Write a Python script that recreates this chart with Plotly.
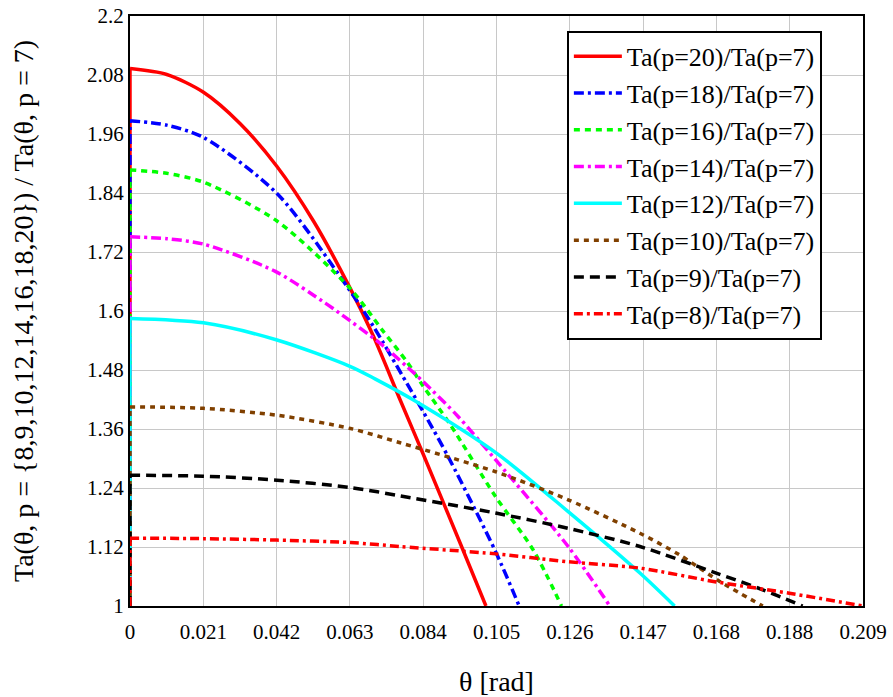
import plotly.graph_objects as go

# ---- data ----
theta_p20 = [0, 0, 0.0105, 0.021, 0.0315, 0.042, 0.0525, 0.063, 0.0696, 0.0772, 0.084, 0.0945, 0.1017]
ratio_p20 = [1.0, 2.093, 2.081, 2.045, 1.981, 1.894, 1.782, 1.645, 1.548, 1.419, 1.305, 1.125, 1.0]

theta_p18 = [0, 0, 0.0105, 0.021, 0.042, 0.062, 0.0696, 0.0791, 0.0838, 0.0914, 0.1045, 0.1112]
ratio_p18 = [1.0, 1.987, 1.978, 1.953, 1.839, 1.650, 1.568, 1.453, 1.395, 1.297, 1.110, 1.0]

theta_p16 = [0, 0, 0.0105, 0.021, 0.042, 0.063, 0.0722, 0.0791, 0.0835, 0.0914, 0.1045, 0.1152, 0.1233]
ratio_p16 = [1.0, 1.887, 1.880, 1.862, 1.783, 1.645, 1.56, 1.497, 1.45, 1.37, 1.222, 1.114, 1.0]

theta_p14 = [0, 0, 0.0105, 0.021, 0.0414, 0.0558, 0.060, 0.0715, 0.0791, 0.0838, 0.0938, 0.1045, 0.1252, 0.1371]
ratio_p14 = [1.0, 1.751, 1.747, 1.736, 1.681, 1.616, 1.595, 1.534, 1.487, 1.456, 1.385, 1.297, 1.121, 1.0]

theta_p12 = [0, 0, 0.021, 0.042, 0.063, 0.070, 0.081, 0.1045, 0.1252, 0.1457, 0.1556]
ratio_p12 = [1.0, 1.585, 1.576, 1.541, 1.487, 1.462, 1.419, 1.312, 1.192, 1.067, 1.0]

theta_p10 = [0, 0, 0.021, 0.042, 0.063, 0.0772, 0.1045, 0.1252, 0.1457, 0.157, 0.1685, 0.1808]
ratio_p10 = [1.0, 1.405, 1.402, 1.388, 1.361, 1.332, 1.273, 1.216, 1.148, 1.104, 1.05, 1.0]

theta_p9 = [0, 0, 0.021, 0.042, 0.063, 0.0772, 0.1045, 0.1252, 0.1457, 0.1675, 0.1808, 0.1922]
ratio_p9 = [1.0, 1.266, 1.264, 1.256, 1.241, 1.224, 1.189, 1.158, 1.121, 1.067, 1.033, 1.0]

theta_p8 = [0, 0, 0.021, 0.042, 0.063, 0.0772, 0.1045, 0.1252, 0.1457, 0.1675, 0.1884, 0.2094]
ratio_p8 = [1.0, 1.138, 1.137, 1.134, 1.129, 1.121, 1.106, 1.090, 1.077, 1.049, 1.026, 1.0]

series_names = ["Ta(p=20)/Ta(p=7)", "Ta(p=18)/Ta(p=7)", "Ta(p=16)/Ta(p=7)", "Ta(p=14)/Ta(p=7)",
                "Ta(p=12)/Ta(p=7)", "Ta(p=10)/Ta(p=7)", "Ta(p=9)/Ta(p=7)", "Ta(p=8)/Ta(p=7)"]

x_tick_vals = [0, 0.020944, 0.041888, 0.062832, 0.083776, 0.10472, 0.125664, 0.146608, 0.167552, 0.188496, 0.20944]
x_tick_text = ["0", "0.021", "0.042", "0.063", "0.084", "0.105", "0.126", "0.147", "0.168", "0.188", "0.209"]
y_tick_vals = [1, 1.12, 1.24, 1.36, 1.48, 1.6, 1.72, 1.84, 1.96, 2.08, 2.2]
y_tick_text = ["1", "1.12", "1.24", "1.36", "1.48", "1.6", "1.72", "1.84", "1.96", "2.08", "2.2"]

# ---- styles ----
colors = ["#ff0000", "#0000ff", "#00ff00", "#ff00ff", "#00ffff", "#804000", "#000000", "#ff0000"]
dashes = ["solid", "10px,4px,3px,4px", "6px,5px", "10px,4px,3px,4px",
          "solid", "5px,5px", "10px,6px", "9px,4px,3px,4px"]

xs = [theta_p20, theta_p18, theta_p16, theta_p14, theta_p12, theta_p10, theta_p9, theta_p8]
ys = [ratio_p20, ratio_p18, ratio_p16, ratio_p14, ratio_p12, ratio_p10, ratio_p9, ratio_p8]

FONT = "Liberation Serif"

fig = go.Figure()
for i, (x, y, name, c, d) in enumerate(zip(xs, ys, series_names, colors, dashes)):
    # jump at theta = 0 (from 1 up to the peak value)
    fig.add_trace(go.Scatter(x=x[:2], y=y[:2], mode="lines", legendgroup=f"g{i}", showlegend=False,
                             hoverinfo="skip", line=dict(color=c, width=3.5, dash=d)))
    # the curve itself
    fig.add_trace(go.Scatter(x=x[1:], y=y[1:], mode="lines", name=name, legendgroup=f"g{i}",
                             line=dict(color=c, width=3.5, dash=d, shape="spline", smoothing=0.8)))

fig.update_layout(
    width=893, height=697,
    margin=dict(l=130, r=30, t=16, b=91, autoexpand=False),
    paper_bgcolor="white", plot_bgcolor="white",
    font=dict(family=FONT, color="black", size=21),
    showlegend=True,
    legend=dict(x=0.596, y=0.975, xanchor="left", yanchor="top",
                bgcolor="white", bordercolor="black", borderwidth=2,
                font=dict(family=FONT, size=26, color="black"),
                itemwidth=48, tracegroupgap=0),
)
fig.update_xaxes(range=[0, 0.20944], tickmode="array", tickvals=x_tick_vals, ticktext=x_tick_text,
                 showgrid=True, gridcolor="#c8c8c8", gridwidth=1,
                 showline=True, linecolor="black", linewidth=2, mirror=True,
                 ticks="outside", ticklen=6, tickcolor="rgba(0,0,0,0)", ticklabeloverflow="allow",
                 zeroline=False, tickfont=dict(family=FONT, size=21), automargin=False,
                 title=dict(text="θ [rad]", font=dict(family=FONT, size=28), standoff=38))
fig.update_yaxes(range=[1, 2.2], tickmode="array", tickvals=y_tick_vals, ticktext=y_tick_text,
                 showgrid=True, gridcolor="#c8c8c8", gridwidth=1,
                 showline=True, linecolor="black", linewidth=2, mirror=True,
                 ticks="", ticklabeloverflow="allow",
                 zeroline=False, tickfont=dict(family=FONT, size=21), automargin=False,
                 title=dict(text="Ta(θ, p = {8,9,10,12,14,16,18,20}) / Ta(θ, p = 7)",
                            font=dict(family=FONT, size=28), standoff=45))

# remove the default 8px page margin so the 893x697 figure fills the window exactly
fig.write_html("out.html", config={"displayModeBar": False},
               post_script="document.body.style.margin='0';")
